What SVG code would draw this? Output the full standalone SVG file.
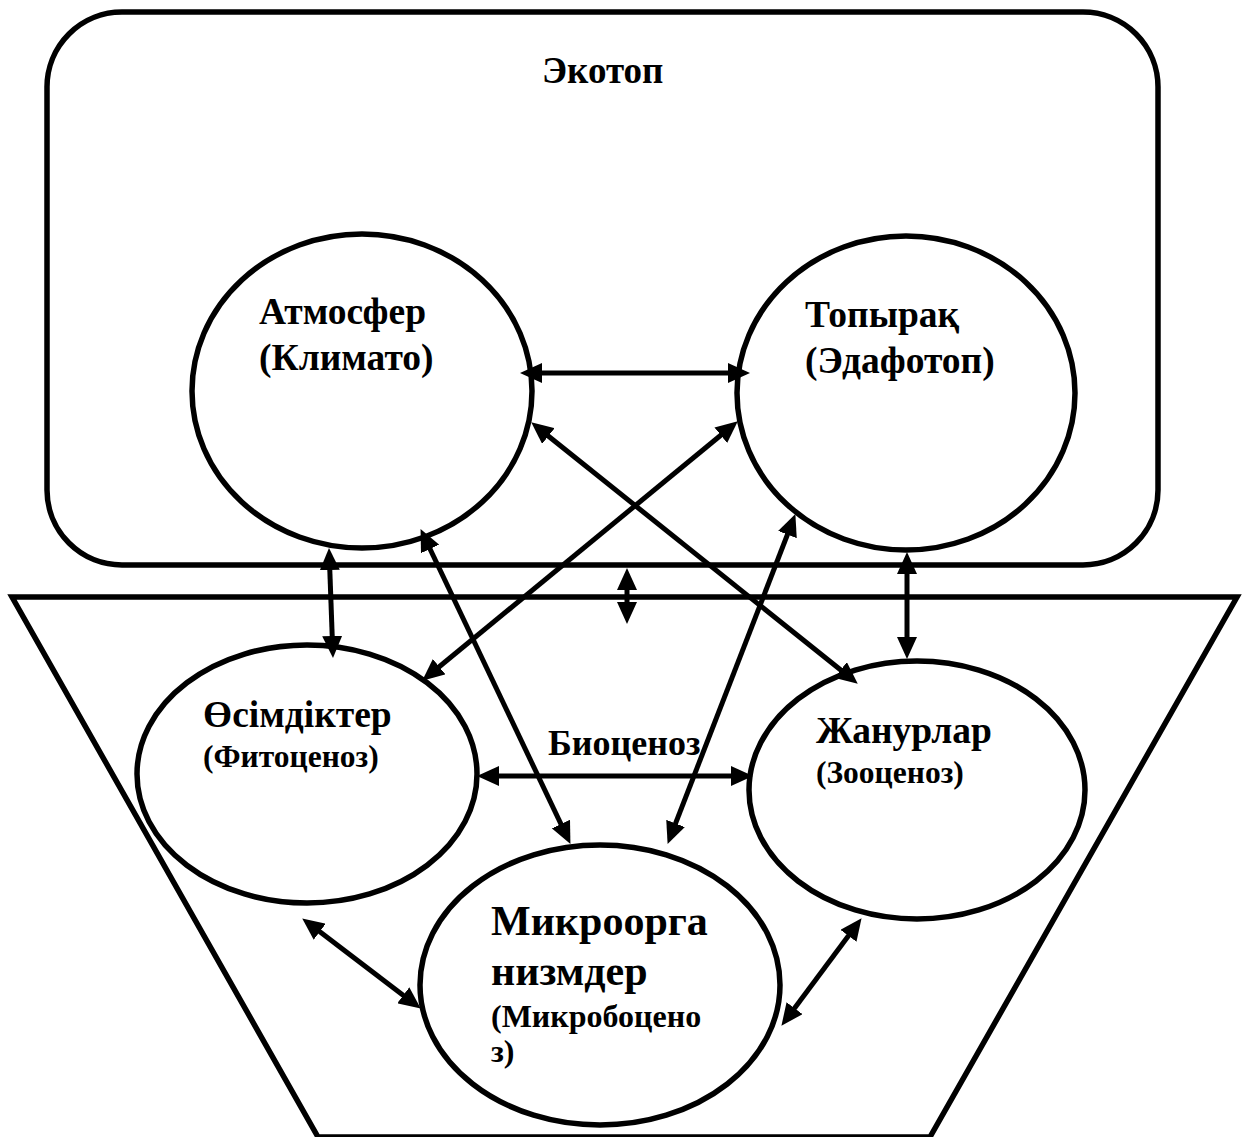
<svg xmlns="http://www.w3.org/2000/svg" width="1248" height="1137" viewBox="0 0 1248 1137">
<style>
.shape{fill:none;stroke:#000;stroke-width:5.5}
.node{fill:#fff;stroke:#000;stroke-width:5.5}
.con{stroke:#000;stroke-width:5;fill:none;marker-start:url(#ah);marker-end:url(#ah)}
text{font-family:"Liberation Serif","Times New Roman",serif;font-weight:bold;fill:#000}
.big{font-size:37.5px}
.sm{font-size:31.5px}
.xl{font-size:42px}
.md{font-size:32px}
.title{font-size:37px}
</style>
<defs>
<marker id="ah" markerUnits="userSpaceOnUse" markerWidth="22" markerHeight="20" viewBox="0 0 22 20" refX="11" refY="10" orient="auto-start-reverse">
<path d="M0,0 L22,10 L0,20 z" fill="#000"/>
</marker>
</defs>
<rect fill="#fff" width="1248" height="1137"/>
<g id="ekotop">
<rect class="shape" x="47" y="12" width="1111" height="553" rx="75" ry="75"/>
<text class="title" x="542" y="83">Экотоп</text>
</g>
<g id="biotsenoz">
<polygon class="shape" points="12,597 1237,597 930,1137 318,1137"/>
<text class="title" x="548" y="755" style="font-size:36px">Биоценоз</text>
</g>
<g id="atmosfer">
<ellipse class="node" cx="362" cy="391" rx="170" ry="157"/>
<text class="big" x="259" y="324">Атмосфер</text>
<text class="big" x="259" y="370">(Климато)</text>
</g>
<g id="topyrak">
<ellipse class="node" cx="906" cy="393" rx="169" ry="157"/>
<text class="big" x="805" y="327">Топырақ</text>
<text class="big" x="805" y="373">(Эдафотоп)</text>
</g>
<g id="osimdikter">
<ellipse class="node" cx="307" cy="774" rx="170" ry="129"/>
<text class="big" x="203" y="727">Өсімдіктер</text>
<text class="sm" x="203" y="767">(Фитоценоз)</text>
</g>
<g id="zhanurlar">
<ellipse class="node" cx="917" cy="790" rx="168" ry="129"/>
<text class="big" x="816" y="743">Жанурлар</text>
<text class="sm" x="816" y="783">(Зооценоз)</text>
</g>
<g id="mikro">
<ellipse class="node" cx="600" cy="985" rx="180" ry="140"/>
<text class="xl" x="491" y="935">Микроорга</text>
<text class="xl" x="491" y="985">низмдер</text>
<text class="md" x="491" y="1027">(Микробоцено</text>
<text class="md" x="491" y="1062">з)</text>
</g>
<g id="connectors">
<line class="con" x1="531" y1="373" x2="739" y2="373"/>
<line class="con" x1="329.4" y1="559" x2="332.6" y2="647"/>
<line class="con" x1="627" y1="579" x2="627" y2="613"/>
<line class="con" x1="729.3" y1="428.3" x2="430.7" y2="673.7"/>
<line class="con" x1="539.8" y1="429.2" x2="849.2" y2="676.8"/>
<line class="con" x1="425.3" y1="539" x2="565.7" y2="834"/>
<line class="con" x1="791.4" y1="524.3" x2="671.6" y2="833.7"/>
<line class="con" x1="907" y1="563" x2="907" y2="648"/>
<line class="con" x1="488" y1="776" x2="742" y2="776"/>
<line class="con" x1="311" y1="925.1" x2="412" y2="1001.9"/>
<line class="con" x1="855" y1="927" x2="788" y2="1017"/>
</g>
</svg>
